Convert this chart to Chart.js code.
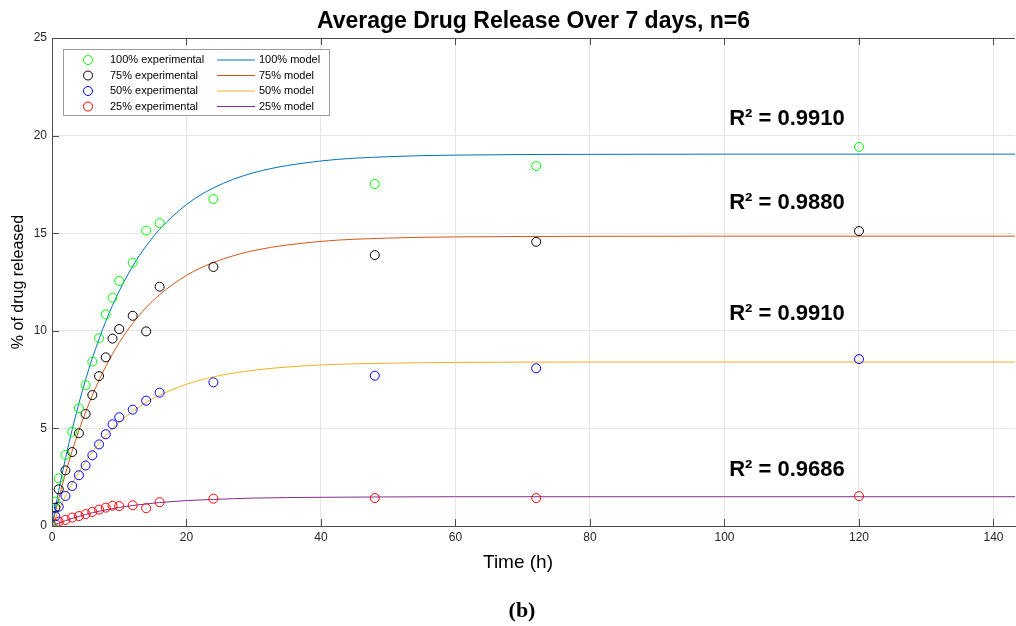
<!DOCTYPE html>
<html>
<head>
<meta charset="utf-8">
<script src="https://cdn.jsdelivr.net/npm/chart.js@4.4.0/dist/chart.umd.min.js"></script>
<style>
    html, body { margin: 0; padding: 0; background: #fff; }
    #wrap { width: 1016px; height: 626px; }
</style>
</head>
<body>
<div id="wrap"><canvas id="release-chart" width="1016" height="626"></canvas></div>
<script>
// Sampling times (h) for the measured points
const expTimes = [0, 0.5, 1, 2, 3, 4, 5, 6, 7, 8, 9, 10, 12, 14, 16, 24, 48, 72, 120];
const exp100 = [0, 1.25, 2.44, 3.64, 4.83, 6.03, 7.22, 8.42, 9.62, 10.84, 11.70, 12.55, 13.49, 15.13, 15.52, 16.75, 17.52, 18.44, 19.42];
const exp75  = [0, 0.94, 1.88, 2.85, 3.79, 4.75, 5.74, 6.71, 7.68, 8.64, 9.60, 10.09, 10.77, 9.97, 12.26, 13.27, 13.88, 14.56, 15.11];
const exp50  = [0, 0.50, 0.99, 1.54, 2.05, 2.60, 3.10, 3.62, 4.18, 4.70, 5.21, 5.57, 5.96, 6.42, 6.83, 7.36, 7.70, 8.08, 8.55];
const exp25  = [0, 0.10, 0.22, 0.31, 0.43, 0.51, 0.61, 0.72, 0.84, 0.94, 1.04, 1.02, 1.06, 0.91, 1.22, 1.40, 1.43, 1.43, 1.53];

// Model curves
const modelTimes = [0, 1, 2, 3, 4, 5, 6, 8, 10, 12, 14, 16, 20, 24, 30, 40, 50, 60, 80, 100, 143.2];
const model100 = [0, 1.81, 3.45, 4.94, 6.28, 7.50, 8.60, 10.49, 12.04, 13.31, 14.35, 15.20, 16.47, 17.32, 18.10, 18.70, 18.92, 19.00, 19.04, 19.05, 19.05];
const model75  = [0, 1.41, 2.69, 3.85, 4.90, 5.84, 6.70, 8.18, 9.39, 10.38, 11.19, 11.85, 12.84, 13.50, 14.11, 14.58, 14.75, 14.81, 14.84, 14.85, 14.85];
const model50  = [0, 0.80, 1.52, 2.18, 2.77, 3.31, 3.79, 4.63, 5.31, 5.87, 6.33, 6.70, 7.26, 7.64, 7.98, 8.25, 8.34, 8.38, 8.40, 8.40, 8.40];
const model25  = [0, 0.14, 0.27, 0.39, 0.49, 0.59, 0.68, 0.83, 0.95, 1.05, 1.13, 1.20, 1.30, 1.36, 1.43, 1.47, 1.49, 1.50, 1.50, 1.50, 1.50];

const expLabels = ['100% experimental', '75% experimental', '50% experimental', '25% experimental'];
const modelLabels = ['100% model', '75% model', '50% model', '25% model'];

const xTicks = [0, 20, 40, 60, 80, 100, 120, 140];
const yTicks = [0, 5, 10, 15, 20, 25];

// R² annotations (text + level on the y axis)
const r2Labels = ['R\u00B2 = 0.9910', 'R\u00B2 = 0.9880', 'R\u00B2 = 0.9910', 'R\u00B2 = 0.9686'];
const r2Levels = [20.54, 16.24, 10.55, 2.56];
const r2Time = 100.7;

const SANS = "'Liberation Sans', Arial, Helvetica, sans-serif";
const SERIF = "'Liberation Serif', 'Times New Roman', serif";
const expColors = ['#00ff00', '#000000', '#0000ff', '#ff0000'];
const modelColors = ['#0072bd', '#d95319', '#edb120', '#7e2f8e'];

const toXY = (xs, ys) => xs.map((t, i) => ({ x: t, y: ys[i] }));

const expSeries = [exp100, exp75, exp50, exp25];
const modelSeries = [model100, model75, model50, model25];

const datasets = [];
expSeries.forEach((vals, i) => {
    datasets.push({
        label: expLabels[i],
        data: toXY(expTimes, vals),
        showLine: false,
        pointStyle: 'circle',
        pointRadius: 4.5,
        pointBorderWidth: 1,
        pointBackgroundColor: 'rgba(0,0,0,0)',
        pointBorderColor: expColors[i],
        borderColor: expColors[i]
    });
});
modelSeries.forEach((vals, i) => {
    datasets.push({
        label: modelLabels[i],
        data: toXY(modelTimes, vals),
        showLine: true,
        pointRadius: 0,
        borderWidth: 1,
        borderColor: modelColors[i],
        backgroundColor: modelColors[i],
        cubicInterpolationMode: 'monotone',
        fill: false
    });
});

// inward tick marks, top border, legend box, R² notes and bottom captions
const axesDecor = {
    id: 'axesDecor',
    afterDraw(chart) {
        const { ctx, chartArea: a, scales: { x, y } } = chart;
        ctx.save();

        ctx.strokeStyle = '#4d4d4d';
        ctx.lineWidth = 1;
        ctx.beginPath();
        ctx.moveTo(a.left, a.top + 0.5);
        ctx.lineTo(a.right, a.top + 0.5);
        x.ticks.forEach(t => {
            const px = Math.round(x.getPixelForValue(t.value)) + 0.5;
            ctx.moveTo(px, a.bottom);
            ctx.lineTo(px, a.bottom - 7);
            ctx.moveTo(px, a.top);
            ctx.lineTo(px, a.top + 7);
        });
        y.ticks.forEach(t => {
            const py = Math.round(y.getPixelForValue(t.value)) + 0.5;
            ctx.moveTo(a.left, py);
            ctx.lineTo(a.left + 7, py);
        });
        ctx.stroke();

        // R² notes
        ctx.fillStyle = '#000';
        ctx.font = 'bold 22px ' + SANS;
        ctx.textAlign = 'left';
        ctx.textBaseline = 'alphabetic';
        r2Labels.forEach((txt, i) => {
            ctx.fillText(txt, x.getPixelForValue(r2Time), y.getPixelForValue(r2Levels[i]));
        });

        // x axis caption and panel letter (sit a bit left of the plot centre in the original)
        ctx.textAlign = 'center';
        ctx.textBaseline = 'middle';
        ctx.font = '19px ' + SANS;
        ctx.fillText('Time (h)', 518, a.bottom + 37);
        ctx.font = 'bold 22px ' + SERIF;
        ctx.fillText('(b)', 522, a.bottom + 85);

        // legend, two columns like the original figure
        const bx = a.left + 11, by = a.top + 11, bw = 266, bh = 66;
        ctx.textAlign = 'left';
        ctx.fillStyle = '#fff';
        ctx.fillRect(bx, by, bw, bh);
        ctx.strokeStyle = '#9a9a9a';
        ctx.strokeRect(bx + 0.5, by + 0.5, bw, bh);
        ctx.font = '11px ' + SANS;
        ctx.textBaseline = 'middle';
        ctx.fillStyle = '#000';
        for (let i = 0; i < 4; i++) {
            const ry = by + 11 + i * 15.5;
            ctx.beginPath();
            ctx.strokeStyle = expColors[i];
            ctx.arc(bx + 25, ry, 4.5, 0, Math.PI * 2);
            ctx.stroke();
            ctx.fillText(expLabels[i], bx + 47, ry);

            ctx.beginPath();
            ctx.strokeStyle = modelColors[i];
            ctx.moveTo(bx + 154, ry);
            ctx.lineTo(bx + 192, ry);
            ctx.stroke();
            ctx.fillText(modelLabels[i], bx + 196, ry);
        }
        ctx.restore();
    }
};

const ctx = document.getElementById('release-chart').getContext('2d');
const releaseChart = new Chart(ctx, {
    type: 'scatter',
    data: { datasets },
    options: {
        responsive: false,
        animation: false,
        events: [],
        layout: { autoPadding: false, padding: { right: 1 } },
        scales: {
            x: {
                type: 'linear',
                min: 0,
                max: 143.2,
                afterBuildTicks: s => { s.ticks = xTicks.map(v => ({ value: v })); },
                afterFit: s => { s.height = 100; s.paddingLeft = 0; s.paddingRight = 0; },
                grid: { color: '#e6e6e6', drawTicks: false },
                border: { color: '#4d4d4d' },
                ticks: { padding: 4, color: '#262626', font: { family: SANS, size: 12 } },
                title: { display: false }
            },
            y: {
                type: 'linear',
                min: 0,
                max: 25,
                afterBuildTicks: s => { s.ticks = yTicks.map(v => ({ value: v })); },
                afterFit: s => { s.width = 52; },
                grid: { color: '#e6e6e6', drawTicks: false },
                border: { color: '#4d4d4d' },
                ticks: { padding: 5, color: '#262626', font: { family: SANS, size: 12 } },
                title: {
                    display: true,
                    text: '% of drug released',
                    color: '#000',
                    font: { family: SANS, size: 16 },
                    padding: { top: 9, bottom: 0 }
                }
            }
        },
        plugins: {
            legend: { display: false },
            tooltip: { enabled: false },
            title: {
                display: true,
                fullSize: false,
                text: 'Average Drug Release Over 7 days, n=6',
                color: '#000',
                font: { family: SANS, size: 23, weight: 'bold' },
                padding: { top: 8, bottom: 2.4 }
            }
        }
    },
    plugins: [axesDecor]
});
</script>
</body>
</html>
